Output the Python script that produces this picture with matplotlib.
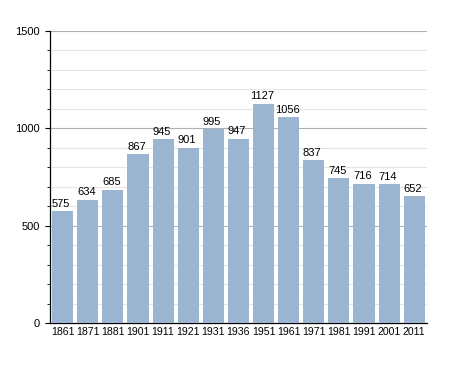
import matplotlib
matplotlib.use("Agg")
import matplotlib.pyplot as plt
from matplotlib.ticker import MultipleLocator

years = ["1861", "1871", "1881", "1901", "1911", "1921", "1931", "1936", "1951",
         "1961", "1971", "1981", "1991", "2001", "2011"]
population = [575, 634, 685, 867, 945, 901, 995, 947, 1127, 1056, 837, 745, 716, 714, 652]

plt.rcParams['font.family'] = ['Liberation Sans', 'DejaVu Sans']

fig = plt.figure(figsize=(4.55, 3.73), dpi=100)
ax = fig.add_axes([0.110, 0.134, 0.828, 0.783])

x = list(range(len(years)))
ax.bar(x, population, width=0.84, color='#9bb4d0', zorder=3)
for xi, v in zip(x, population):
    ax.text(xi - 0.06, v + 12, str(v), ha='center', va='bottom', fontsize=8, zorder=4)

ax.set_xlim(-0.5, len(years) - 0.5)
ax.set_ylim(0, 1500)
ax.set_xticks(x)
ax.set_xticklabels(years, fontsize=7.6)
ax.yaxis.set_major_locator(MultipleLocator(500))
ax.yaxis.set_minor_locator(MultipleLocator(100))
ax.tick_params(axis='y', which='major', length=3.5, labelsize=8, pad=4)
ax.tick_params(axis='y', which='minor', length=2.5)
ax.tick_params(axis='x', length=0, pad=3)
ax.grid(axis='y', which='major', color='#b0b0b0', linewidth=0.8, zorder=0)
ax.grid(axis='y', which='minor', color='#e4e4e4', linewidth=0.8, zorder=0)
for s in ['top', 'right']:
    ax.spines[s].set_visible(False)
ax.spines['left'].set_linewidth(0.9)
ax.spines['bottom'].set_linewidth(0.9)

fig.savefig("out.png", dpi=100)
